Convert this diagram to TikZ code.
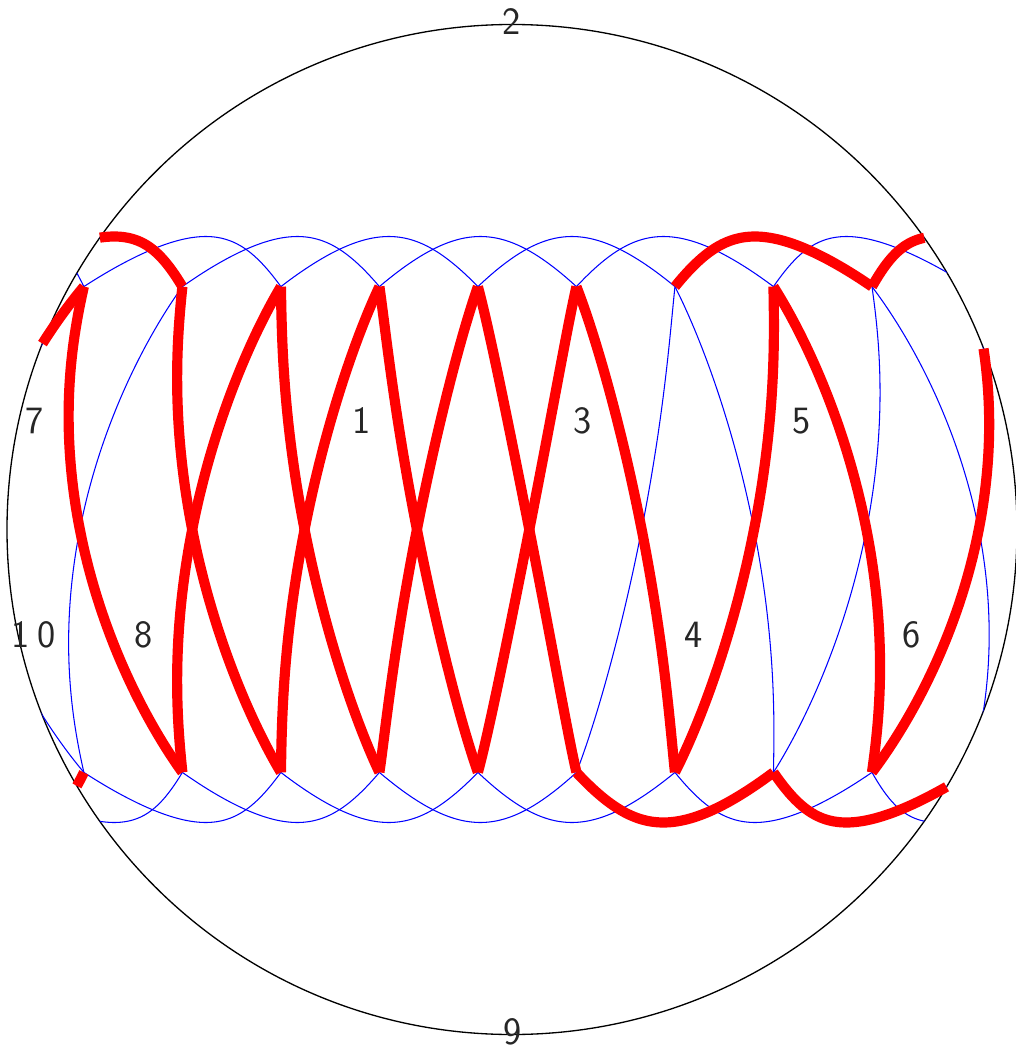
\documentclass[tikz,border=0pt]{standalone}
\tikzset{
  blueedge/.style={draw=blue, line width=0.6pt},
  rededge/.style={draw=red, line width=5.8pt, line cap=butt},
  rim/.style={draw=black, line width=0.75pt},
  lab/.style={font=\sffamily\fontsize{22}{26}\selectfont, inner sep=0pt, text=black!85}
}
% #1 start index, #2 start angle, #3 end index, #4 end angle, #5 t0, #6 t1
\newcommand\edgecurve[6]{plot[domain=#5:#6,samples=40,smooth,variable=\t]
 ({512+505*(-0.967+0.2225*((#1)+((#3)-(#1))*\t))*sqrt(1-0.3366*sin((#2)+((#4)-(#2))*\t)*sin((#2)+((#4)-(#2))*\t))},
  {529.5-293*sin((#2)+((#4)-(#2))*\t)})}
\begin{document}
\begin{tikzpicture}[x=0.02cm,y=-0.02cm]
\useasboundingbox (0,0) rectangle (1015,1050);
\coordinate (ctr) at (512,529.5);
\draw[rim] (ctr) circle[radius=505];
% blue network
\begin{scope}
  \clip (ctr) circle[radius=505];
  \foreach \a in {-2,...,8}{
    \draw[blueedge] \edgecurve{\a}{56}{\a+2}{124}{0}{1};
    \draw[blueedge] \edgecurve{\a}{-56}{\a+2}{-124}{0}{1};
  }
  \foreach \a in {-1,...,8}{
    \draw[blueedge] \edgecurve{\a}{56}{\a+1}{-56}{0}{1};
    \draw[blueedge] \edgecurve{\a+1}{56}{\a}{-56}{0}{1};
  }
\end{scope}
% red path
\draw[rededge] \edgecurve{-1}{-56}{0}{56}{0.8517}{1};
\draw[rededge] \edgecurve{0}{56}{1}{-56}{0}{1};
\draw[rededge] \edgecurve{-1}{56}{1}{124}{0.4258}{1};
\draw[rededge] \edgecurve{1}{56}{2}{-56}{0}{1};
\draw[rededge] \edgecurve{2}{56}{1}{-56}{0}{1};
\draw[rededge] \edgecurve{2}{56}{3}{-56}{0}{1};
\draw[rededge] \edgecurve{3}{56}{2}{-56}{0}{1};
\draw[rededge] \edgecurve{3}{56}{4}{-56}{0}{1};
\draw[rededge] \edgecurve{4}{56}{3}{-56}{0}{1};
\draw[rededge] \edgecurve{4}{56}{5}{-56}{0}{1};
\draw[rededge] \edgecurve{5}{56}{4}{-56}{0}{1};
\draw[rededge] \edgecurve{5}{56}{6}{-56}{0}{1};
\draw[rededge] \edgecurve{7}{56}{6}{-56}{0}{1};
\draw[rededge] \edgecurve{7}{56}{8}{-56}{0}{1};
\draw[rededge] \edgecurve{8}{-56}{9}{56}{0}{0.8404};
\draw[rededge] \edgecurve{6}{56}{8}{124}{0}{1};
\draw[rededge] \edgecurve{8}{56}{10}{124}{0}{0.4202};
\draw[rededge] \edgecurve{5}{-56}{7}{-124}{0}{1};
\draw[rededge] \edgecurve{7}{-56}{9}{-124}{0}{0.9202};
\draw[rededge] \edgecurve{-2}{-56}{0}{-124}{0.9258}{1};
% labels
\node[lab] (l1) at (362,421) {1};
\node[lab] (l2) at (512,22) {2};
\node[lab] (l3) at (583,421) {3};
\node[lab] (l4) at (694,635) {4};
\node[lab] (l5) at (802,421) {5};
\node[lab] (l6) at (912,635) {6};
\node[lab] (l7) at (35,421) {7};
\node[lab] (l8) at (144,635) {8};
\node[lab] (l9) at (513,1032) {9};
\node[lab] (l10) at (34,635) {1\kern4.5pt0};
\end{tikzpicture}
\end{document}
